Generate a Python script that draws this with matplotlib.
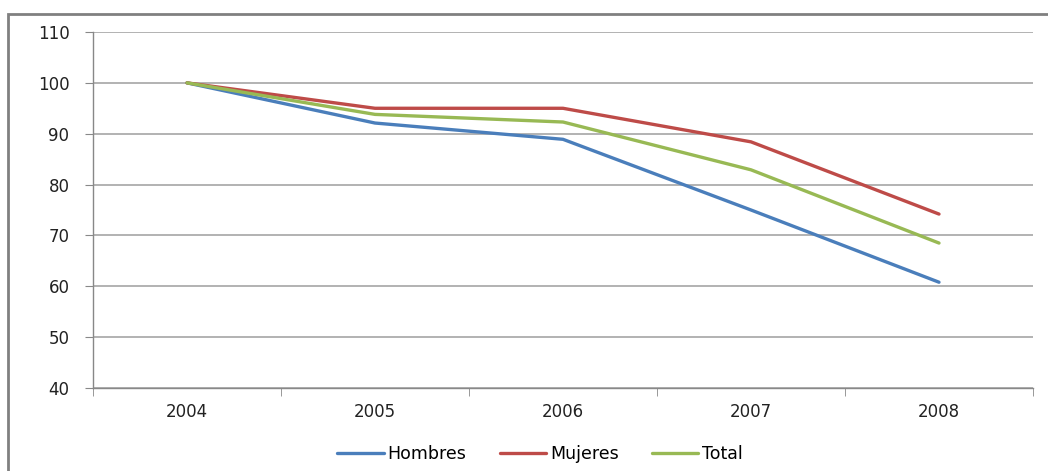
import matplotlib.pyplot as plt
from matplotlib.patches import Rectangle

years = ["2004", "2005", "2006", "2007", "2008"]
hombres = [100, 92.1, 88.9, 75.0, 60.8]
mujeres = [100, 95.0, 95.0, 88.4, 74.2]
total = [100, 93.8, 92.3, 82.9, 68.5]

plt.rcParams['font.family'] = ['DejaVu Sans']

fig = plt.figure(figsize=(10.48, 4.71), dpi=100)
ax = fig.add_axes([93 / 1048, 1 - 388 / 471, 940 / 1048, 356 / 471])

x = list(range(len(years)))
ax.plot(x, hombres, color='#4A7EBB', lw=2.4, label='Hombres', solid_capstyle='round')
ax.plot(x, mujeres, color='#BE4B48', lw=2.4, label='Mujeres', solid_capstyle='round')
ax.plot(x, total, color='#98B954', lw=2.4, label='Total', solid_capstyle='round')

ax.set_xlim(-0.5, len(years) - 0.5)
ax.set_ylim(40, 110)
ax.set_yticks(range(40, 111, 10))
ax.set_xticks(x)
ax.set_xticklabels(years)
ax.set_xticks([i - 0.5 for i in range(len(years) + 1)], minor=True)
ax.tick_params(axis='x', which='major', length=0, pad=11, labelsize=12, colors='#222222')
ax.tick_params(axis='x', which='minor', length=6, color='#888888')
ax.tick_params(axis='y', length=6, color='#888888', labelsize=12, labelcolor='#222222', pad=11)

ax.grid(axis='y', color='#A6A6A6', lw=1.2)
ax.set_axisbelow(True)
for s in ['top', 'right']:
    ax.spines[s].set_visible(False)
for s in ['left', 'bottom']:
    ax.spines[s].set_color('#888888')
    ax.spines[s].set_linewidth(1.0)

fig.legend(loc='center', bbox_to_anchor=(540 / 1048, 1 - 454 / 471), ncol=3, frameon=False,
           fontsize=12.5, handlelength=2.7, handletextpad=0.2, columnspacing=1.9)

fig.patches.append(Rectangle((8 / 1048, -0.1), 1.2, 1 - 14 / 471 + 0.1,
                             transform=fig.transFigure, fill=False,
                             edgecolor='#808080', lw=2, figure=fig))

fig.savefig('out.png', dpi=100, facecolor='white')
